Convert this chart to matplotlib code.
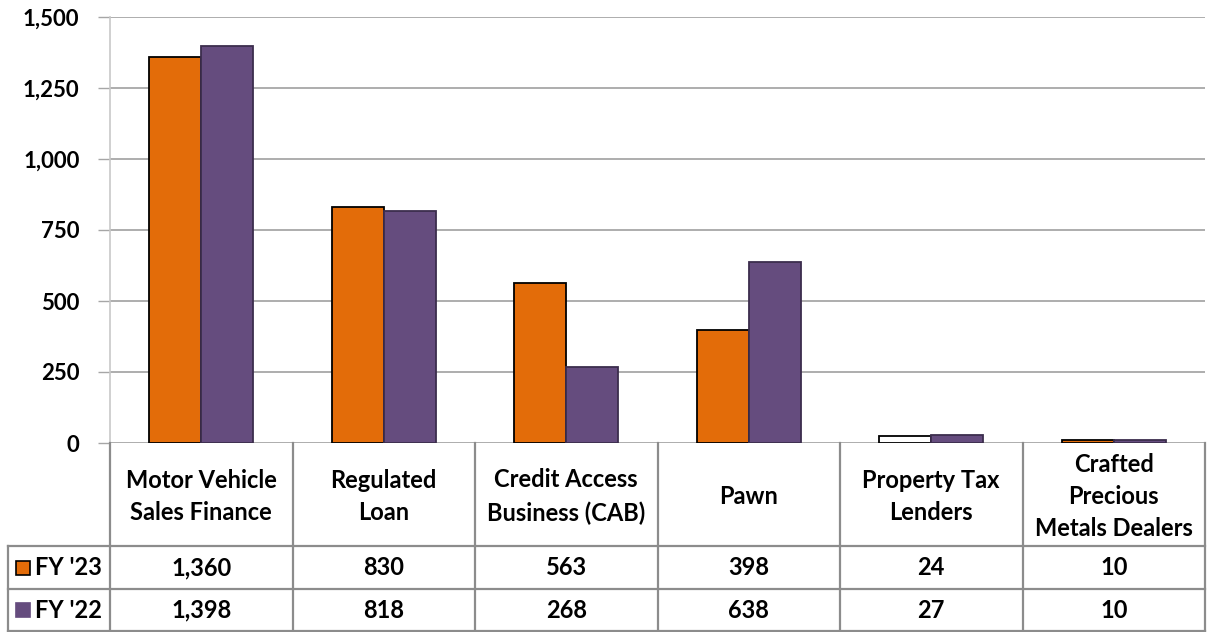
import matplotlib.pyplot as plt
import numpy as np
from matplotlib.ticker import FuncFormatter

categories = [
    "Motor Vehicle\nSales Finance",
    "Regulated\nLoan",
    "Credit Access\nBusiness (CAB)",
    "Pawn",
    "Property Tax\nLenders",
    "Crafted\nPrecious\nMetals Dealers",
]
fy23 = [1360, 830, 563, 398, 24, 10]
fy22 = [1398, 818, 268, 638, 27, 10]
series_names = ["FY '23", "FY '22"]

orange = "#e36c09"
purple = "#654c7e"
fy23_fill = [orange, orange, orange, orange, "white", orange]

plt.rcParams["font.family"] = ["Lato", "DejaVu Sans"]
FW = "bold"
FS = 17

W, H = 1211, 632
fig = plt.figure(figsize=(W / 100, H / 100), dpi=100)


def fx(px):
    return px / W


def fy(py):
    return 1 - py / H


left_px, right_px, top_px, base_px = 110, 1205, 17, 443
ax = fig.add_axes([fx(left_px), fy(base_px), fx(right_px) - fx(left_px),
                   fy(top_px) - fy(base_px)])

n = len(categories)
x = np.arange(n) + 0.5
bw = 0.285
ax.bar(x - bw / 2, fy23, bw, color=fy23_fill, edgecolor="black",
       linewidth=1.3, zorder=3)
ax.bar(x + bw / 2, fy22, bw, color=purple, edgecolor="#3c2d4d",
       linewidth=1.3, zorder=3)

ax.set_xlim(0, n)
ax.set_ylim(0, 1500)
ax.set_yticks(np.arange(0, 1501, 250))
ax.yaxis.set_major_formatter(FuncFormatter(lambda v, p: f"{int(v):,}"))
ax.tick_params(axis="y", labelsize=16, length=9, width=1, color="#a6a6a6",
               pad=13)
ax.tick_params(axis="x", bottom=False, labelbottom=False)
for lab in ax.get_yticklabels():
    lab.set_fontweight(FW)
ax.grid(axis="y", color="#a0a0a0", linewidth=1.2, zorder=0)
for s in ["top", "right", "bottom"]:
    ax.spines[s].set_visible(False)
ax.spines["left"].set_color("#c8c8c8")
ax.spines["left"].set_linewidth(1.2)

# data table underneath the plot
line_kw = dict(color="#8c8c8c", linewidth=1.6, transform=fig.transFigure,
               clip_on=False)
row1, row2, row3 = 546, 589, 631
table_left = 8
col_px = [left_px + (right_px - left_px) * i / n for i in range(n + 1)]

for ry in (row1, row2, row3):
    fig.add_artist(plt.Line2D([fx(table_left), fx(right_px)], [fy(ry)] * 2, **line_kw))
fig.add_artist(plt.Line2D([fx(table_left)] * 2, [fy(row1), fy(row3)], **line_kw))
for c in col_px:
    fig.add_artist(plt.Line2D([fx(c)] * 2, [fy(base_px), fy(row3)], **line_kw))

for i, name in enumerate(categories):
    cx = (col_px[i] + col_px[i + 1]) / 2
    fig.text(fx(cx), fy((base_px + row1) / 2 + 2), name, ha="center",
             va="center", fontsize=FS, fontweight=FW, linespacing=1.5)
    fig.text(fx(cx), fy((row1 + row2) / 2), f"{fy23[i]:,}", ha="center",
             va="center", fontsize=FS, fontweight=FW)
    fig.text(fx(cx), fy((row2 + row3) / 2), f"{fy22[i]:,}", ha="center",
             va="center", fontsize=FS, fontweight=FW)

# legend keys in the row headers
for ry, name, col, ec in [((row1 + row2) / 2, series_names[0], orange, "black"),
                          ((row2 + row3) / 2, series_names[1], purple, purple)]:
    fig.patches.append(plt.Rectangle((fx(16), fy(ry + 7)), fx(14), 14 / H,
                                     facecolor=col, edgecolor=ec, linewidth=1.2,
                                     transform=fig.transFigure))
    fig.text(fx(35), fy(ry), name, ha="left", va="center", fontsize=FS,
             fontweight=FW)

fig.savefig("out.png", dpi=100)
